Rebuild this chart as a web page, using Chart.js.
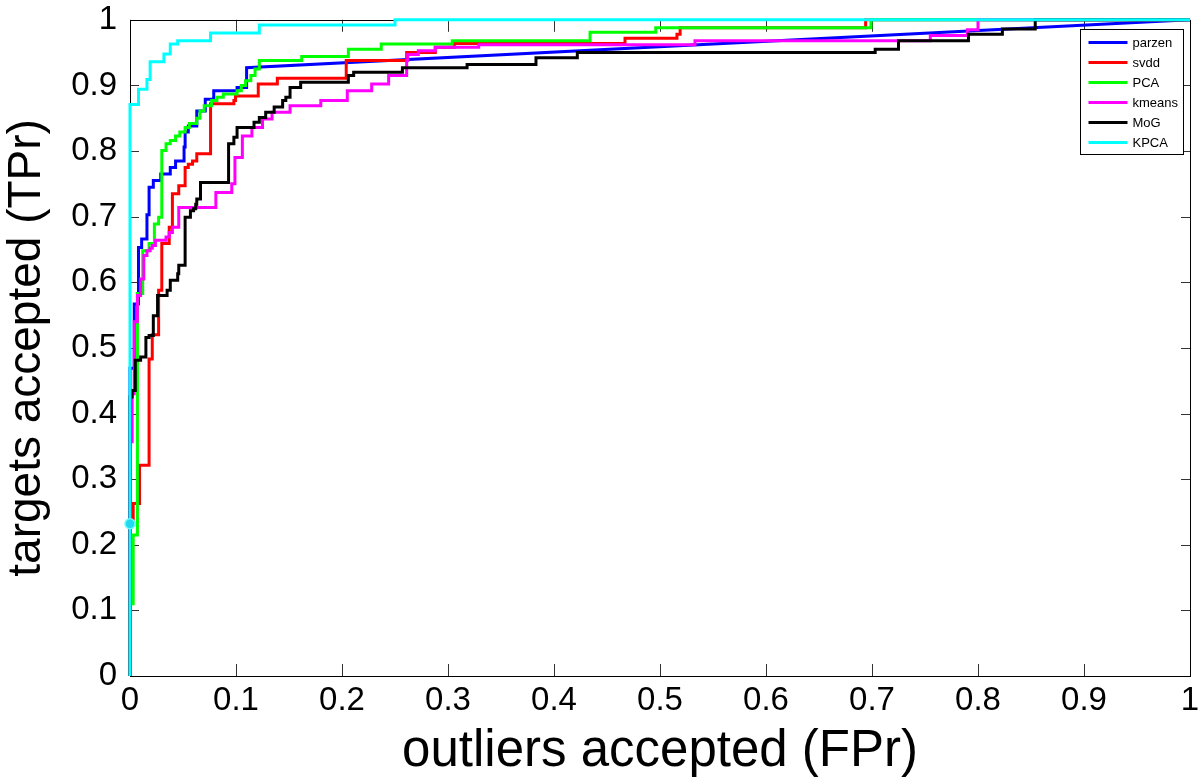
<!DOCTYPE html>
<html>
<head>
<meta charset="utf-8">
<script src="https://cdn.jsdelivr.net/npm/chart.js@4/dist/chart.umd.min.js"></script>
<style>
  html, body { margin: 0; padding: 0; background: #fff; }
  #roc { display: block; }
</style>
</head>
<body>
<canvas id="roc" width="1200" height="779"></canvas>
<script>
// ROC curves, each series given as the points where the staircase jumps
const tickValues = [0, 0.1, 0.2, 0.3, 0.4, 0.5, 0.6, 0.7, 0.8, 0.9, 1];
const xTickLabels = ['0', '0.1', '0.2', '0.3', '0.4', '0.5', '0.6', '0.7', '0.8', '0.9', '1'];
const yTickLabels = ['0', '0.1', '0.2', '0.3', '0.4', '0.5', '0.6', '0.7', '0.8', '0.9', '1'];

const seriesNames = ['parzen', 'svdd', 'PCA', 'kmeans', 'MoG', 'KPCA'];
const seriesColors = ['#0000ff', '#ff0000', '#00ff00', '#ff00ff', '#000000', '#00ffff'];

// parzen: staircase, then a straight last segment to (1,1)
const parzenFPr = [0, 0, 0.004, 0.008, 0.011, 0.016, 0.018, 0.022, 0.029, 0.038, 0.043, 0.051, 0.052, 0.055, 0.063, 0.071, 0.079, 0.101, 0.110, 1];
const parzenTPr = [0, 0.469, 0.567, 0.653, 0.666, 0.703, 0.745, 0.755, 0.765, 0.775, 0.785, 0.806, 0.829, 0.838, 0.861, 0.879, 0.892, 0.897, 0.927, 1];

const svddFPr = [0, 0, 0.003, 0.009, 0.018, 0.021, 0.027, 0.030, 0.037, 0.040, 0.046, 0.052, 0.055, 0.059, 0.063, 0.076, 0.098, 0.0995, 0.121, 0.139, 0.204, 0.261, 0.288, 0.306, 0.467, 0.516, 0.519, 0.694, 1];
const svddTPr = [0, 0.233, 0.263, 0.321, 0.483, 0.520, 0.588, 0.659, 0.684, 0.735, 0.747, 0.775, 0.780, 0.785, 0.796, 0.872, 0.877, 0.884, 0.902, 0.911, 0.938, 0.950, 0.958, 0.964, 0.972, 0.978, 0.988, 1, 1];

const pcaFPr = [0, 0, 0.003, 0.007, 0.012, 0.018, 0.023, 0.027, 0.030, 0.034, 0.038, 0.043, 0.047, 0.052, 0.056, 0.063, 0.066, 0.070, 0.077, 0.082, 0.088, 0.101, 0.105, 0.109, 0.114, 0.118, 0.122, 0.162, 0.206, 0.237, 0.304, 0.434, 0.496, 0.699, 1];
const pcaTPr = [0, 0.110, 0.215, 0.583, 0.648, 0.659, 0.689, 0.699, 0.801, 0.811, 0.816, 0.823, 0.829, 0.836, 0.842, 0.850, 0.861, 0.869, 0.877, 0.882, 0.887, 0.892, 0.900, 0.907, 0.915, 0.925, 0.938, 0.944, 0.955, 0.963, 0.968, 0.981, 0.988, 1, 1];

const kmeansFPr = [0, 0, 0.002, 0.004, 0.007, 0.010, 0.013, 0.016, 0.019, 0.021, 0.024, 0.034, 0.037, 0.040, 0.046, 0.081, 0.096, 0.099, 0.106, 0.115, 0.125, 0.134, 0.151, 0.180, 0.205, 0.228, 0.244, 0.261, 0.262, 0.272, 0.288, 0.329, 0.533, 0.755, 0.790, 0.800, 1];
const kmeansTPr = [0, 0.357, 0.430, 0.540, 0.580, 0.605, 0.641, 0.648, 0.652, 0.656, 0.664, 0.669, 0.676, 0.684, 0.714, 0.737, 0.750, 0.790, 0.823, 0.836, 0.849, 0.859, 0.869, 0.877, 0.892, 0.902, 0.915, 0.938, 0.947, 0.953, 0.958, 0.962, 0.968, 0.976, 0.985, 1, 1];

const mogFPr = [0, 0, 0.002, 0.005, 0.010, 0.015, 0.018, 0.022, 0.026, 0.035, 0.038, 0.045, 0.046, 0.052, 0.057, 0.060, 0.062, 0.063, 0.0665, 0.093, 0.098, 0.101, 0.117, 0.122, 0.128, 0.136, 0.144, 0.147, 0.151, 0.161, 0.206, 0.211, 0.257, 0.318, 0.383, 0.422, 0.703, 0.725, 0.791, 0.823, 0.854, 1];
const mogTPr = [0, 0.425, 0.435, 0.481, 0.486, 0.516, 0.519, 0.549, 0.580, 0.588, 0.603, 0.613, 0.626, 0.699, 0.709, 0.712, 0.719, 0.727, 0.752, 0.811, 0.821, 0.836, 0.844, 0.851, 0.859, 0.867, 0.877, 0.882, 0.897, 0.905, 0.915, 0.920, 0.927, 0.932, 0.942, 0.950, 0.955, 0.968, 0.978, 0.986, 1, 1];

const kpcaFPr = [0, 0, 0.008, 0.016, 0.019, 0.032, 0.038, 0.045, 0.076, 0.122, 0.250, 1];
const kpcaTPr = [0, 0.871, 0.894, 0.909, 0.936, 0.948, 0.963, 0.968, 0.980, 0.992, 1, 1];

// operating point marked on the KPCA curve
const kpcaPointFPr = [0];
const kpcaPointTPr = [0.232];

// turn jump points into the corners of a staircase
function stairs(fpr, tpr, straightTail) {
  const pts = [{ x: fpr[0], y: tpr[0] }];
  const n = fpr.length;
  for (let i = 1; i < n; i++) {
    if (!(straightTail && i === n - 1)) {
      pts.push({ x: fpr[i], y: tpr[i - 1] });
    }
    pts.push({ x: fpr[i], y: tpr[i] });
  }
  return pts;
}

const curves = [
  stairs(parzenFPr, parzenTPr, true),
  stairs(svddFPr, svddTPr),
  stairs(pcaFPr, pcaTPr),
  stairs(kmeansFPr, kmeansTPr),
  stairs(mogFPr, mogTPr),
  stairs(kpcaFPr, kpcaTPr)
];

const FONT = "'Liberation Sans', Arial, Helvetica, sans-serif";

const datasets = curves.map((pts, i) => ({
  label: seriesNames[i],
  data: pts,
  borderColor: seriesColors[i],
  backgroundColor: seriesColors[i],
  borderWidth: 3,
  pointRadius: 0,
  fill: false,
  clip: 3,
  order: curves.length - i // later series drawn on top
}));

datasets.push({
  label: '',
  data: kpcaPointFPr.map((x, i) => ({ x: x, y: kpcaPointTPr[i] })),
  showLine: false,
  pointRadius: 5,
  pointBorderWidth: 1.5,
  pointBackgroundColor: '#22d8ee',
  pointBorderColor: '#66ffff',
  clip: false,
  order: 0
});

// box round the plot and matlab style ticks pointing inwards
const boxPlugin = {
  id: 'box',
  beforeDatasetsDraw(chart) {
    const { ctx, chartArea: a, scales } = chart;
    ctx.save();
    ctx.strokeStyle = '#333';
    ctx.lineWidth = 1;
    ctx.beginPath();
    tickValues.forEach(v => {
      const px = Math.round(scales.x.getPixelForValue(v)) + 0.5;
      ctx.moveTo(px, a.bottom); ctx.lineTo(px, a.bottom - 12);
      ctx.moveTo(px, a.top); ctx.lineTo(px, a.top + 12);
      const py = Math.round(scales.y.getPixelForValue(v)) + 0.5;
      ctx.moveTo(a.left, py); ctx.lineTo(a.left + 9, py);
      ctx.moveTo(a.right, py); ctx.lineTo(a.right - 9, py);
    });
    ctx.stroke();
    ctx.strokeStyle = '#000';
    ctx.strokeRect(Math.round(a.left) + 0.5, Math.round(a.top) + 0.5,
      Math.round(a.right - a.left), Math.round(a.bottom - a.top));
    ctx.restore();
  }
};

// legend box in the top right corner, drawn over the curves
const legendPlugin = {
  id: 'boxLegend',
  afterDatasetsDraw(chart) {
    const { ctx, chartArea: a } = chart;
    const items = chart.data.datasets.filter(d => d.label);
    const w = 103, rowH = 20;
    const h = items.length * rowH + 5;
    const x0 = Math.round(a.right - w - 7) + 0.5;
    const y0 = Math.round(a.top + 9) + 0.5;
    ctx.save();
    ctx.fillStyle = '#fff';
    ctx.fillRect(x0, y0, w, h);
    ctx.strokeStyle = '#000';
    ctx.lineWidth = 1;
    ctx.strokeRect(x0, y0, w, h);
    ctx.font = '13px ' + FONT;
    ctx.textBaseline = 'middle';
    items.forEach((d, i) => {
      const y = y0 + 13 + i * rowH;
      ctx.strokeStyle = d.borderColor;
      ctx.lineWidth = 3;
      ctx.beginPath();
      ctx.moveTo(x0 + 8, y);
      ctx.lineTo(x0 + 47, y);
      ctx.stroke();
      ctx.fillStyle = '#000';
      ctx.fillText(d.label, x0 + 52, y + 1);
    });
    ctx.restore();
  }
};

// invisible tick marks only reserve the gap between axis and labels
const hiddenGrid = tl => ({
  display: true,
  drawOnChartArea: false,
  drawTicks: true,
  tickLength: tl,
  color: 'rgba(0,0,0,0)'
});

new Chart(document.getElementById('roc'), {
  type: 'line',
  data: { datasets: datasets },
  plugins: [boxPlugin, legendPlugin],
  options: {
    responsive: false,
    animation: false,
    layout: { padding: { top: 19, right: 10, left: 0, bottom: 0 } },
    plugins: { legend: { display: false }, tooltip: { enabled: false } },
    scales: {
      x: {
        type: 'linear',
        min: 0,
        max: 1,
        grid: hiddenGrid(5),
        border: { display: false },
        afterBuildTicks: s => { s.ticks = tickValues.map(v => ({ value: v })); },
        afterFit: s => { s.height = 103; },
        ticks: {
          autoSkip: false,
          maxRotation: 0,
          padding: 0,
          color: '#000',
          font: { family: FONT, size: 33 },
          callback: (v, i) => xTickLabels[i]
        },
        title: {
          display: true,
          text: 'outliers accepted (FPr)',
          color: '#000',
          font: { family: FONT, size: 51 },
          padding: { top: 0, bottom: -4 }
        }
      },
      y: {
        type: 'linear',
        min: 0,
        max: 1,
        grid: hiddenGrid(13),
        border: { display: false },
        afterBuildTicks: s => { s.ticks = tickValues.map(v => ({ value: v })); },
        afterFit: s => { s.width = 130; },
        ticks: {
          autoSkip: false,
          padding: 0,
          color: '#000',
          font: { family: FONT, size: 33 },
          callback: (v, i) => yTickLabels[i]
        },
        title: {
          display: true,
          text: 'targets accepted (TPr)',
          color: '#000',
          font: { family: FONT, size: 46 },
          padding: { top: 0, bottom: 0 }
        }
      }
    }
  }
});
</script>
</body>
</html>
